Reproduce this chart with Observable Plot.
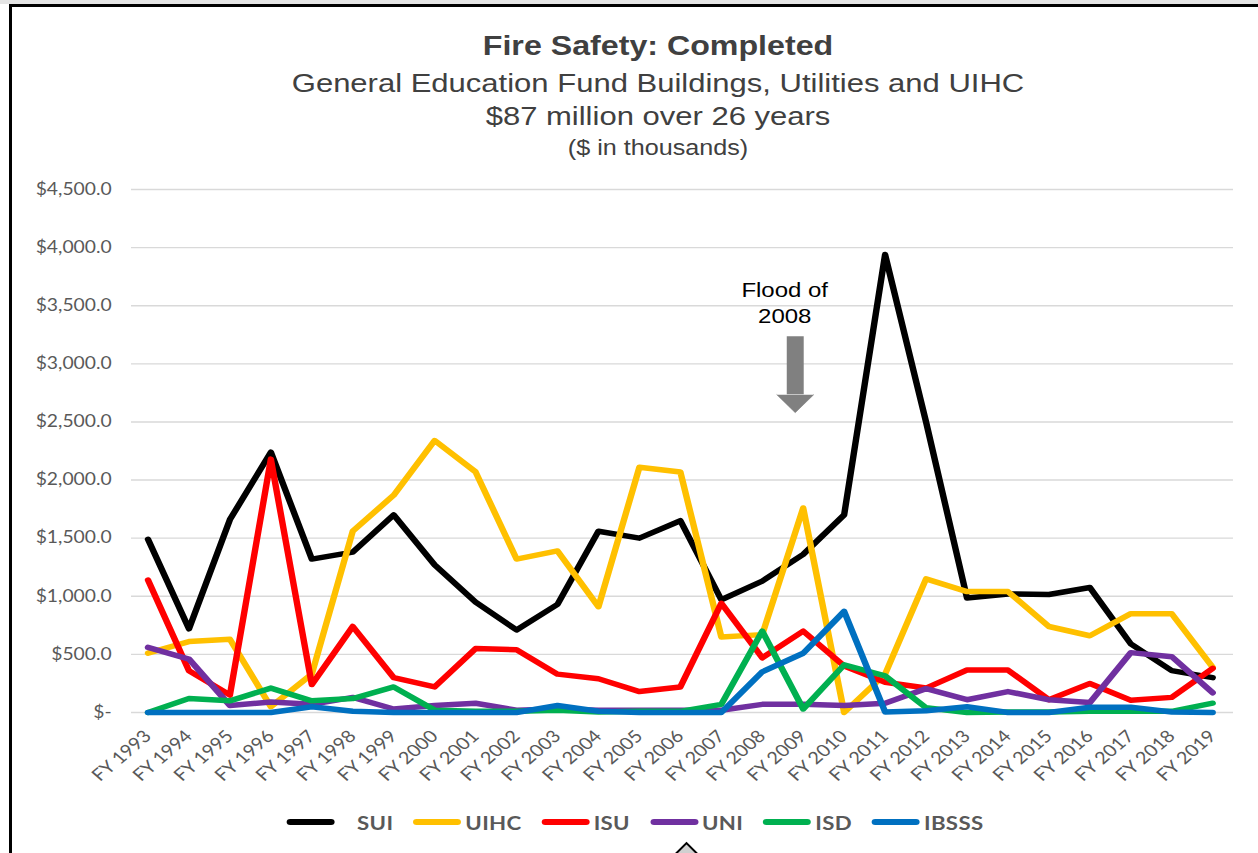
<!DOCTYPE html>
<html>
<head>
<meta charset="utf-8">
<script src="https://cdn.jsdelivr.net/npm/d3@7"></script>
<script src="https://cdn.jsdelivr.net/npm/@observablehq/plot@0.6"></script>
<style>
  html, body { margin: 0; padding: 0; background: #fff; width: 1258px; height: 853px; overflow: hidden; position: relative; }
  #topband { position: absolute; left: 0; top: 0; width: 1258px; height: 4px; background: #e4e4e4; }
  #frame { position: absolute; left: 9px; top: 4px; width: 1300px; height: 900px; border-left: 3px solid #000; border-top: 3px solid #000; }
  #stage { position: absolute; left: 0; top: 0; height: 853px; transform-origin: 0 0; }
  .t { position: absolute; left: 0; text-align: center; white-space: nowrap; font-family: "Liberation Sans", Arial, sans-serif; color: #404040; }
  #plot { position: absolute; left: 0; top: 170px; }
  #legend { position: absolute; top: 810px; height: 24px; display: flex; align-items: center; font-family: Lato, sans-serif; font-weight: bold; font-size: 19px; color: #595959; letter-spacing: 0.3px; }
  #legend .sw { height: 5.5px; border-radius: 3px; }
  #chev { position: absolute; left: 676px; top: 846px; width: 17px; height: 17px; border: 2px solid #000; background: #d0d0d0; transform: rotate(45deg); }
</style>
</head>
<body>
<div id="topband"></div>
<div id="frame"></div>
<div id="stage">
  <div class="t" id="t1" style="font-weight:bold;font-size:27.5px;line-height:27.5px;top:32px;">Fire Safety: Completed</div>
  <div class="t" id="t2" style="font-size:26.5px;line-height:26.5px;top:70px;">General Education Fund Buildings, Utilities and UIHC</div>
  <div class="t" id="t3" style="font-size:26.5px;line-height:26.5px;top:103px;">$87 million over 26 years</div>
  <div class="t" id="t4" style="font-size:21.5px;line-height:21.5px;top:138px;">($ in thousands)</div>
  <div id="plot"></div>
  <div id="legend"></div>
</div>
<div id="chev"></div>
<script>
// ---------- data ----------
const years = ["FY 1993","FY 1994","FY 1995","FY 1996","FY 1997","FY 1998","FY 1999","FY 2000","FY 2001","FY 2002",
  "FY 2003","FY 2004","FY 2005","FY 2006","FY 2007","FY 2008","FY 2009","FY 2010","FY 2011","FY 2012",
  "FY 2013","FY 2014","FY 2015","FY 2016","FY 2017","FY 2018","FY 2019"];
const SUI   = [1490, 720, 1660, 2240, 1320, 1380, 1700, 1270, 950, 710, 930, 1560, 1500, 1650, 970, 1130, 1360, 1700, 3940, 2500, 985, 1020, 1015, 1075, 590, 360, 300];
const UIHC  = [510, 610, 630, 50, 330, 1560, 1870, 2340, 2070, 1320, 1390, 910, 2110, 2070, 650, 670, 1760, 0, 330, 1150, 1040, 1040, 740, 660, 850, 850, 390];
const ISU   = [1140, 360, 150, 2180, 240, 740, 300, 220, 550, 540, 330, 290, 180, 220, 940, 470, 700, 400, 260, 210, 365, 365, 110, 250, 105, 130, 380];
const UNI   = [560, 460, 60, 90, 70, 130, 30, 60, 80, 20, 30, 20, 20, 20, 20, 70, 70, 60, 80, 205, 110, 180, 110, 85, 515, 480, 170];
const ISD   = [0, 120, 100, 210, 100, 120, 220, 20, 10, 10, 20, 5, 10, 10, 70, 700, 30, 410, 315, 40, 0, 5, 5, 10, 10, 10, 80];
const IBSSS = [0, 0, 0, 0, 50, 10, 0, 0, 0, 0, 60, 10, 0, 0, 0, 350, 510, 870, 5, 15, 50, 0, 0, 45, 45, 5, 0];
const seriesNames = ["SUI", "UIHC", "ISU", "UNI", "ISD", "IBSSS"];
const seriesValues = [SUI, UIHC, ISU, UNI, ISD, IBSSS];
const seriesColors = ["#000000", "#FFC000", "#FF0000", "#7030A0", "#00B050", "#0070C0"];
const yTicks = [0, 500, 1000, 1500, 2000, 2500, 3000, 3500, 4000, 4500];
const noteText = "Flood of\n2008";
const noteYear = "FY 2009";
const noteBaseline = 3350;   // value level of last text baseline
const arrowTop = 3234, arrowHeadBase = 2735;

// ---------- layout ----------
const S = 1.17;                 // horizontal stretch of the reference
const W = 1258 / S;
const stage = document.getElementById("stage");
stage.style.width = W + "px";
stage.style.transform = `scaleX(${S})`;
for (const id of ["t1","t2","t3","t4"]) document.getElementById(id).style.width = (2 * 658 / S) + "px";

const rows = years.flatMap((yr, i) => seriesNames.map((n, k) => ({year: yr, name: n, value: seriesValues[k][i]})));
const fmt = d => d === 0 ? "$-" : "$" + d3.format(",.1f")(d);

const chart = Plot.plot({
  width: W,
  height: 627,
  marginTop: 19,
  marginBottom: 85,
  marginLeft: 131 / S,
  marginRight: W - 1233 / S,
  style: {fontFamily: "Lato, sans-serif", color: "#595959", background: "transparent", overflow: "visible"},
  x: {type: "point", domain: years, range: [147 / S, 1213 / S], padding: 0, label: null},
  y: {domain: [0, 4500], label: null},
  color: {domain: seriesNames, range: seriesColors},
  marks: [
    Plot.ruleY(yTicks, {stroke: "#d9d9d9", strokeWidth: 1.4}),
    Plot.axisY({ticks: yTicks, tickFormat: fmt, tickSize: 0, tickPadding: 17, fontSize: 16.5, fill: "#595959", label: null}),
    Plot.axisX({tickSize: 0, tickPadding: 21, tickRotate: -45, fontSize: 17, fill: "#595959", label: null}),
    Plot.line(rows, {x: "year", y: "value", z: "name", stroke: "name", strokeWidth: 5.5, strokeLinejoin: "round", strokeLinecap: "round"}),
    Plot.text([noteText], {x: () => noteYear, y: () => noteBaseline, text: d => d, lineAnchor: "bottom", lineHeight: 1.27,
      fontSize: 20.5, fontFamily: "Liberation Sans, Arial, sans-serif", fill: "#000", dx: -15.8}),
    Plot.ruleX([noteYear], {x: d => d, y1: arrowTop, y2: arrowHeadBase, stroke: "#808080", strokeWidth: 14.5, dx: -6.8}),
    Plot.vector([noteYear], {x: d => d, y: () => arrowHeadBase, length: 18, r: 15.8, shape: "spike", rotate: 180, anchor: "start",
      fill: "#808080", stroke: "#808080", strokeWidth: 0.5, dx: -6.8})
  ]
});
document.getElementById("plot").appendChild(chart);

// ---------- legend ----------
const legend = document.getElementById("legend");
legend.style.left = (287 / S) + "px";
seriesNames.forEach((n, k) => {
  const sw = document.createElement("span");
  sw.className = "sw";
  sw.style.width = (48 / S) + "px";
  sw.style.background = seriesColors[k];
  sw.style.marginLeft = k === 0 ? "0px" : (20 / S) + "px";
  const lb = document.createElement("span");
  lb.textContent = n;
  lb.style.marginLeft = (k === 0 ? 22 : 4) / S + "px";
  legend.appendChild(sw);
  legend.appendChild(lb);
});
</script>
</body>
</html>
